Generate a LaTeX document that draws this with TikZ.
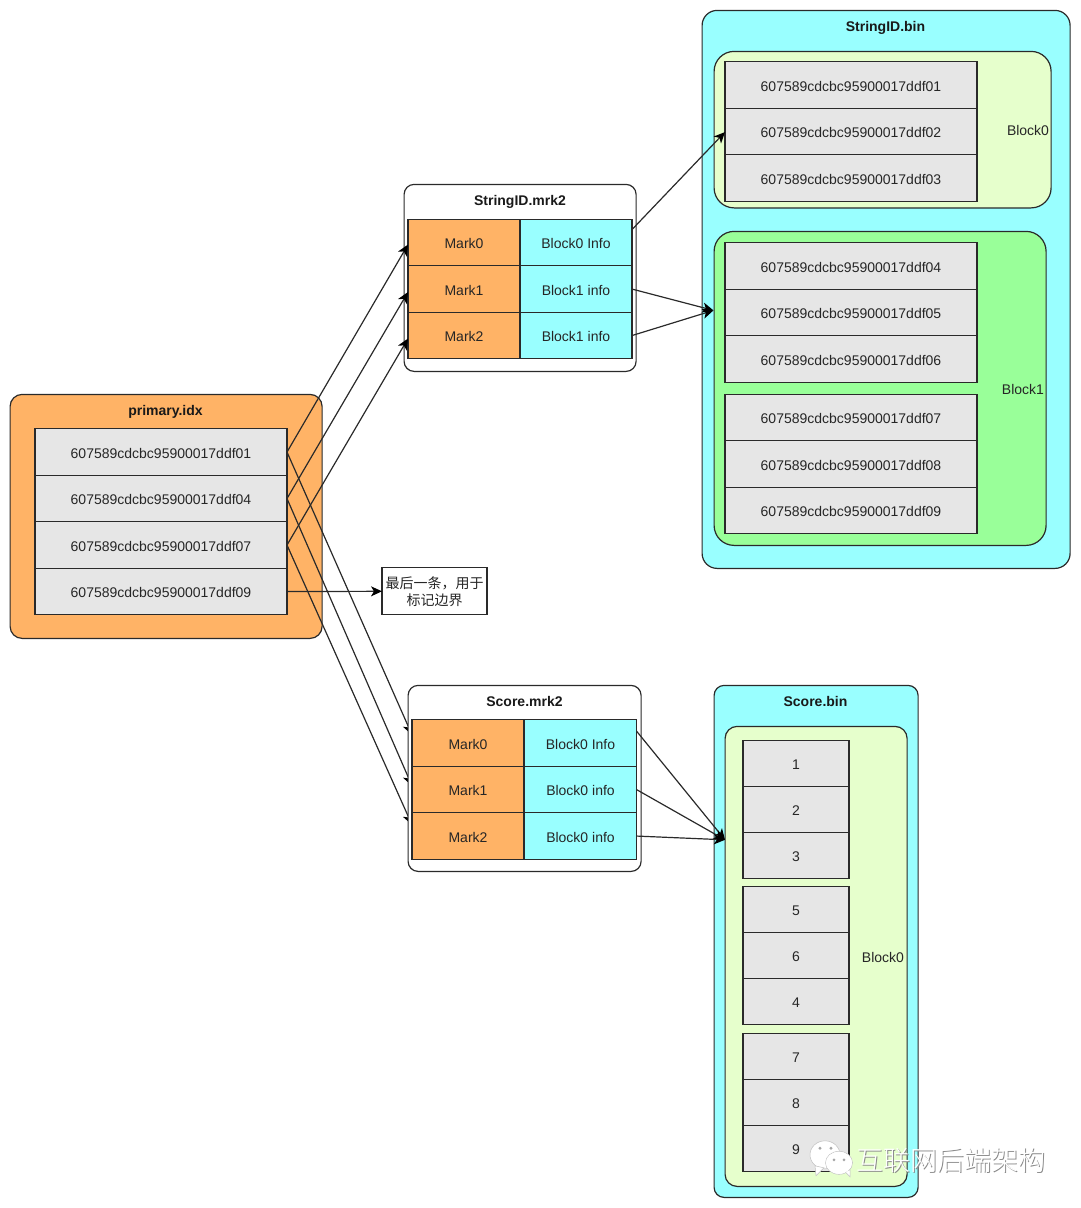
\documentclass[tikz,border=0pt]{standalone}
\usepackage{fontspec}
\setmainfont{Liberation Sans}
\newfontfamily\cjkfont{Noto Sans CJK SC}
\newfontfamily\cjklight{Noto Sans CJK SC Light}
\usetikzlibrary{arrows.meta,calc}
\definecolor{orangefill}{HTML}{FFB366}
\definecolor{cyanfill}{HTML}{99FFFF}
\definecolor{limefill}{HTML}{E6FFCC}
\definecolor{greenfill}{HTML}{99FF99}
\definecolor{greyfill}{HTML}{E6E6E6}
\definecolor{inkline}{HTML}{2A2A2A}
\tikzset{
  panel/.style={draw=inkline,line width=1.2pt,rounded corners=#1,inner sep=0pt,anchor=north west,xshift=-0.5pt},
  panel/.default=12pt,
  title/.style={font=\bfseries\fontsize{14}{16}\selectfont,text=black!90,inner sep=0pt,text height=11pt,text depth=0pt},
  txt/.style={font=\fontsize{14}{16}\selectfont,text=black!85,inner sep=0pt},
  cell/.style={draw=inkline,line width=1.2pt,inner sep=0pt,outer sep=0pt,anchor=north west,font=\fontsize{14}{16}\selectfont,text=black!85,text height=12pt,text depth=0pt},
  idrow/.style={cell,fill=greyfill,minimum width=252pt,minimum height=46.5pt},
  numrow/.style={cell,fill=greyfill,minimum width=106pt,minimum height=46pt},
  markcell/.style={cell,fill=orangefill,minimum width=112pt,minimum height=46.5pt},
  infocell/.style={cell,fill=cyanfill,minimum width=112pt,minimum height=46.5pt},
  link/.style={draw=inkline,line width=1.2pt,-{Stealth[length=11pt,width=10pt,inset=3pt,color=black]}},
  markshadow/.style={font=\cjklight\fontsize{27}{30}\selectfont,text=black!45,inner sep=0pt},
  markfront/.style={font=\cjklight\fontsize{27}{30}\selectfont,text=white,inner sep=0pt},
}
\begin{document}
\begin{tikzpicture}[x=1pt,y=-1pt]
\useasboundingbox (0,0) rectangle (1080,1208);
\begin{scope}[shift={(0,-0.2)}]
% primary.idx
\node[panel,fill=orangefill,minimum width=312pt,minimum height=244pt] (primary) at (10,394) {};
\node[title] (primarytitle) at (165.5,410) {primary.idx};
\node[idrow] (p1) at (35,429) {607589cdcbc95900017ddf01};
\node[idrow] (p2) at (35,475.5) {607589cdcbc95900017ddf04};
\node[idrow] (p3) at (35,522) {607589cdcbc95900017ddf07};
\node[idrow] (p4) at (35,568.5) {607589cdcbc95900017ddf09};
% StringID.mrk2
\node[panel=10pt,fill=white,minimum width=232pt,minimum height=187pt] (smrk) at (404,184) {};
\node[title] (smrktitle) at (520,200) {StringID.mrk2};
\node[markcell] (sm0) at (408,219.5) {Mark0};
\node[markcell] (sm1) at (408,266) {Mark1};
\node[markcell] (sm2) at (408,312.5) {Mark2};
\node[infocell] (si0) at (520,219.5) {Block0 Info};
\node[infocell] (si1) at (520,266) {Block1 info};
\node[infocell] (si2) at (520,312.5) {Block1 info};
% StringID.bin
\node[panel=15pt,fill=cyanfill,minimum width=368pt,minimum height=558pt] (sbin) at (702,10) {};
\node[title] (sbintitle) at (885.5,26) {StringID.bin};
\node[panel=20pt,fill=limefill,minimum width=337pt,minimum height=156.5pt] (sblock0) at (714,51) {};
\node[txt] (sblock0label) at (1028,130.5) {Block0};
\node[idrow] (a1) at (725,62) {607589cdcbc95900017ddf01};
\node[idrow] (a2) at (725,108.5) {607589cdcbc95900017ddf02};
\node[idrow] (a3) at (725,155) {607589cdcbc95900017ddf03};
\node[panel=20pt,fill=greenfill,minimum width=332pt,minimum height=314pt] (sblock1) at (714,231) {};
\node[txt] (sblock1label) at (1023,389.5) {Block1};
\node[idrow] (a4) at (725,243) {607589cdcbc95900017ddf04};
\node[idrow] (a5) at (725,289.5) {607589cdcbc95900017ddf05};
\node[idrow] (a6) at (725,336) {607589cdcbc95900017ddf06};
\node[idrow] (a7) at (725,394.5) {607589cdcbc95900017ddf07};
\node[idrow] (a8) at (725,441) {607589cdcbc95900017ddf08};
\node[idrow] (a9) at (725,487.5) {607589cdcbc95900017ddf09};
% note
\node[cell,fill=white,minimum width=105pt,minimum height=47pt] (note) at (382,568) {};
\node[inner sep=0pt,align=center,font=\cjkfont\fontsize{14}{16.5}\selectfont,text=black!85] (notetext) at (434.5,592) {最后一条，用于\\标记边界};
% Score.bin
\node[panel=10pt,fill=cyanfill,minimum width=204pt,minimum height=512pt] (bbin) at (714,685) {};
\node[title] (bbintitle) at (815.5,701) {Score.bin};
\node[panel=12pt,fill=limefill,minimum width=182pt,minimum height=460pt] (bblock) at (725,726) {};
\node[txt] (bblocklabel) at (883,957.5) {Block0};
\node[numrow] (n1) at (743,741) {1};
\node[numrow] (n2) at (743,787) {2};
\node[numrow] (n3) at (743,833) {3};
\node[numrow] (n5) at (743,887) {5};
\node[numrow] (n6) at (743,933) {6};
\node[numrow] (n4) at (743,979) {4};
\node[numrow] (n7) at (743,1033.5) {7};
\node[numrow] (n8) at (743,1080) {8};
\node[numrow] (n9) at (743,1126) {9};
% connectors running under Score.mrk2
\coordinate (t0) at (412,735);
\coordinate (t1) at (412,786);
\coordinate (t2) at (412,825);
\draw[link] (p1.east) -- (t0);
\draw[link] (p2.east) -- (t1);
\draw[link] (p3.east) -- (t2);
% Score.mrk2
\node[panel=10pt,fill=white,minimum width=233pt,minimum height=186pt] (bmrk) at (408,685) {};
\node[title] (bmrktitle) at (524.5,701) {Score.mrk2};
\node[markcell] (bm0) at (412,720) {Mark0};
\node[markcell] (bm1) at (412,766.5) {Mark1};
\node[markcell] (bm2) at (412,813) {Mark2};
\node[infocell] (bi0) at (524.5,720) {Block0 Info};
\node[infocell] (bi1) at (524.5,766.5) {Block0 info};
\node[infocell] (bi2) at (524.5,813) {Block0 info};
% connectors
\coordinate (smt0) at ($(sm0.west)+(0,2)$);
\coordinate (smt1) at ($(sm1.west)+(0,3)$);
\coordinate (smt2) at ($(sm2.west)+(0,3)$);
\draw[link] (p1.east) -- (smt0);
\draw[link] (p2.east) -- (smt1);
\draw[link] (p3.east) -- (smt2);
\draw[link] (p4.east) -- (note.west);
\coordinate (si0out) at ($(si0.east)+(0,-13)$);
\coordinate (a1in) at ($(a2.west)+(0,0.5)$);
\draw[link] (si0out) -- (a1in);
\coordinate (b1in) at ($(sblock1.west)+(0,-78)$);
\draw[link] (si1.east) -- (b1in);
\draw[link] (si2.east) -- (b1in);
\coordinate (bbin1) at (725,840);
\coordinate (bi0out) at ($(bi0.east)+(0,-12)$);
\draw[link] (bi0out) -- (bbin1);
\draw[link] (bi1.east) -- (bbin1);
\draw[link] (bi2.east) -- (bbin1);
% watermark
\fill[white,draw=black!25,line width=0.5pt] (825,1155) ellipse [x radius=15, y radius=14];
\fill[white,draw=black!25,line width=0.5pt] (815,1166) -- (816,1176) -- (824,1168) -- cycle;
\fill[white,draw=black!25,line width=0.5pt] (839,1163) ellipse [x radius=13.5, y radius=11.5];
\fill[white,draw=black!25,line width=0.5pt] (845,1172) -- (850,1177) -- (850,1170) -- cycle;
\fill[white] (839,1163) ellipse [x radius=13, y radius=11];
\fill[black!35] (820,1148.5) circle (1.6) (831,1148.5) circle (1.6) (834,1160) circle (1.5) (844,1160) circle (1.5);
\node[markshadow] (wmshadow) at (951.5,1161.5) {互联网后端架构};
\node[markfront] (wmtext) at (951,1161) {互联网后端架构};
\end{scope}
\end{tikzpicture}
\end{document}
